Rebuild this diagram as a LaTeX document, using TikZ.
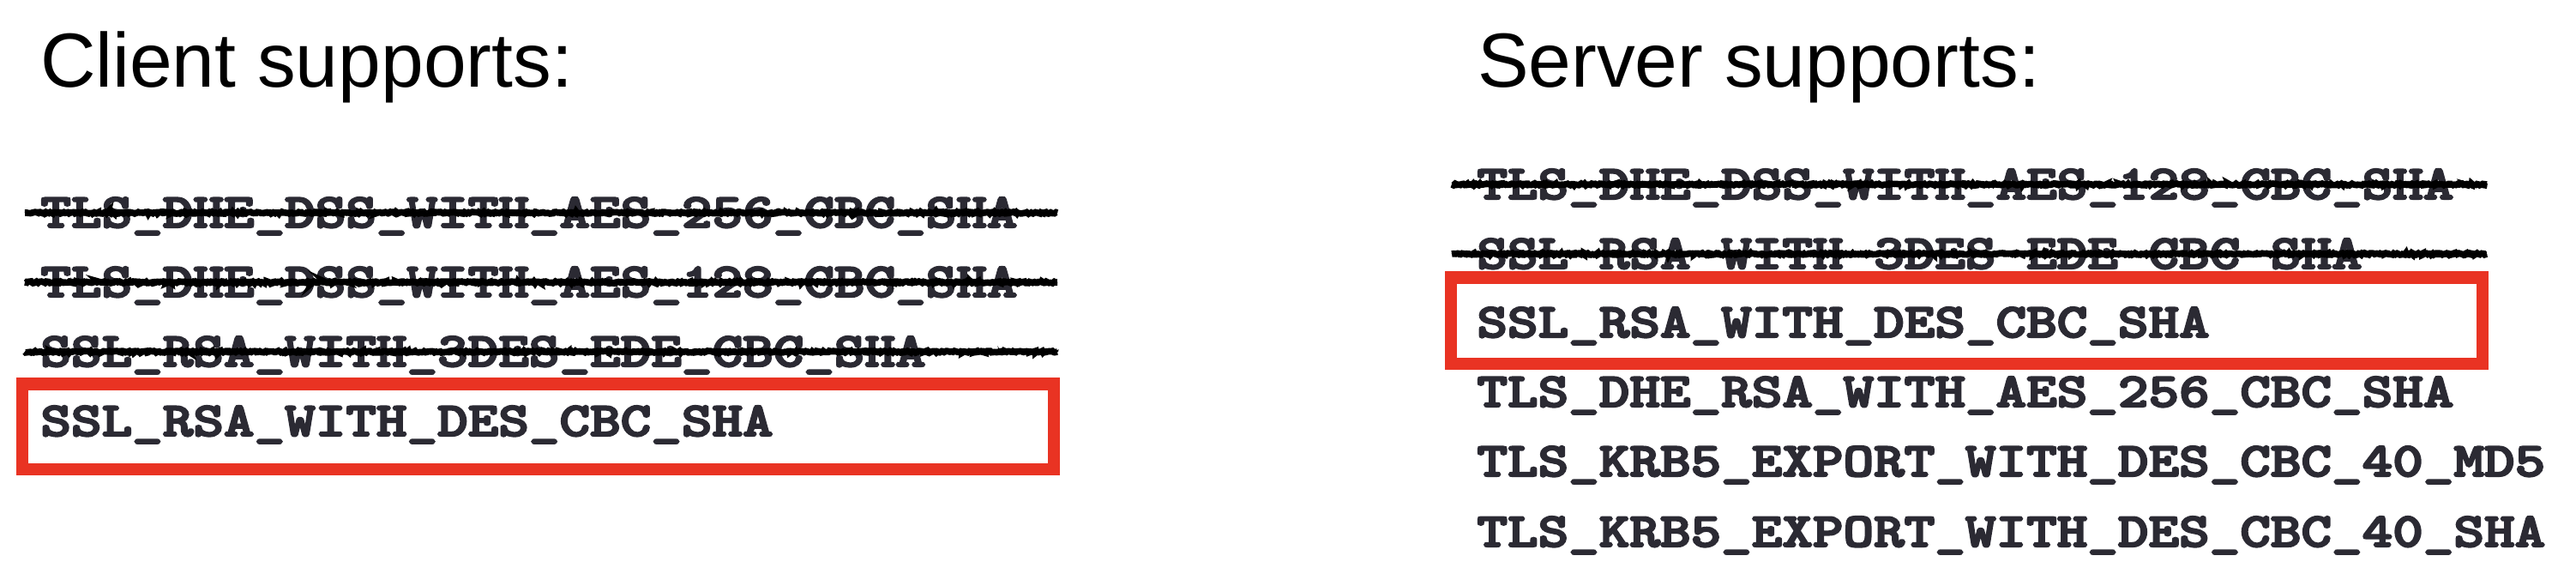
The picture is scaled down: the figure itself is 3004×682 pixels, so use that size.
\documentclass[tikz,border=0pt]{standalone}
\usepackage{fontspec}
\usepackage{graphicx}
\usetikzlibrary{decorations.pathmorphing}
\newfontfamily\titlefont{Liberation Sans}
\newfontfamily\codefont{lmmonolt10-bold.otf}[FakeBold=3.5]
\definecolor{codegray}{HTML}{2B2A33}
\definecolor{boxred}{HTML}{E93323}
\newcommand{\cs}[1]{\scalebox{1.2}[1]{#1}}
\tikzset{
  heading/.style={anchor=base west, inner sep=0pt, text=black,
    font=\titlefont\fontsize{44.7}{50}\selectfont},
  suite/.style={anchor=base west, inner sep=0pt, text=codegray,
    font=\codefont\fontsize{28.25}{32}\selectfont},
  strike/.style={draw=black, line width=3.8pt, decorate,
    decoration={random steps, segment length=0.8pt, amplitude=0.5pt},
    postaction={draw=black, line width=1pt, decorate,
      decoration={random steps, segment length=1pt, amplitude=1pt}}},
  redbox/.style={draw=boxred, line width=7.25pt}
}
\begin{document}
\pgfmathsetseed{11}
\begin{tikzpicture}[x=0.5pt, y=-0.5pt]
\useasboundingbox (0,0) rectangle (3004,682);
\fill[white] (0,0) rectangle (3004,682);
% headings
\node[heading] (ctitle) at (46.6,101) {Client supports:};
\node[heading] (stitle) at (1722.7,101) {Server supports:};
% client list
\node[suite] (c1) at (47,265) {\cs{TLS\_DHE\_DSS\_WITH\_AES\_256\_CBC\_SHA}};
\node[suite] (c2) at (47,346) {\cs{TLS\_DHE\_DSS\_WITH\_AES\_128\_CBC\_SHA}};
\node[suite] (c3) at (47,427) {\cs{SSL\_RSA\_WITH\_3DES\_EDE\_CBC\_SHA}};
\node[suite] (c4) at (47,508) {\cs{SSL\_RSA\_WITH\_DES\_CBC\_SHA}};
% server list
\node[suite] (s1) at (1722,232) {\cs{TLS\_DHE\_DSS\_WITH\_AES\_128\_CBC\_SHA}};
\node[suite] (s2) at (1722,313) {\cs{SSL\_RSA\_WITH\_3DES\_EDE\_CBC\_SHA}};
\node[suite] (s3) at (1722,393) {\cs{SSL\_RSA\_WITH\_DES\_CBC\_SHA}};
\node[suite] (s4) at (1722,474) {\cs{TLS\_DHE\_RSA\_WITH\_AES\_256\_CBC\_SHA}};
\node[suite] (s5) at (1722,555) {\cs{TLS\_KRB5\_EXPORT\_WITH\_DES\_CBC\_40\_MD5}};
\node[suite] (s6) at (1722,637) {\cs{TLS\_KRB5\_EXPORT\_WITH\_DES\_CBC\_40\_SHA}};
% strike-throughs
\draw[strike] (29,248) -- (1233,248);
\draw[strike] (29,329) -- (1233,329);
\draw[strike] (29,410) -- (1233,410);
\draw[strike] (1693,215) -- (2900,215);
\draw[strike] (1693,296) -- (2900,296);
% red boxes
\draw[redbox] (26,447.5) rectangle (1229,547);
\draw[redbox] (1692,323.5) rectangle (2895,424);
\end{tikzpicture}
\end{document}
